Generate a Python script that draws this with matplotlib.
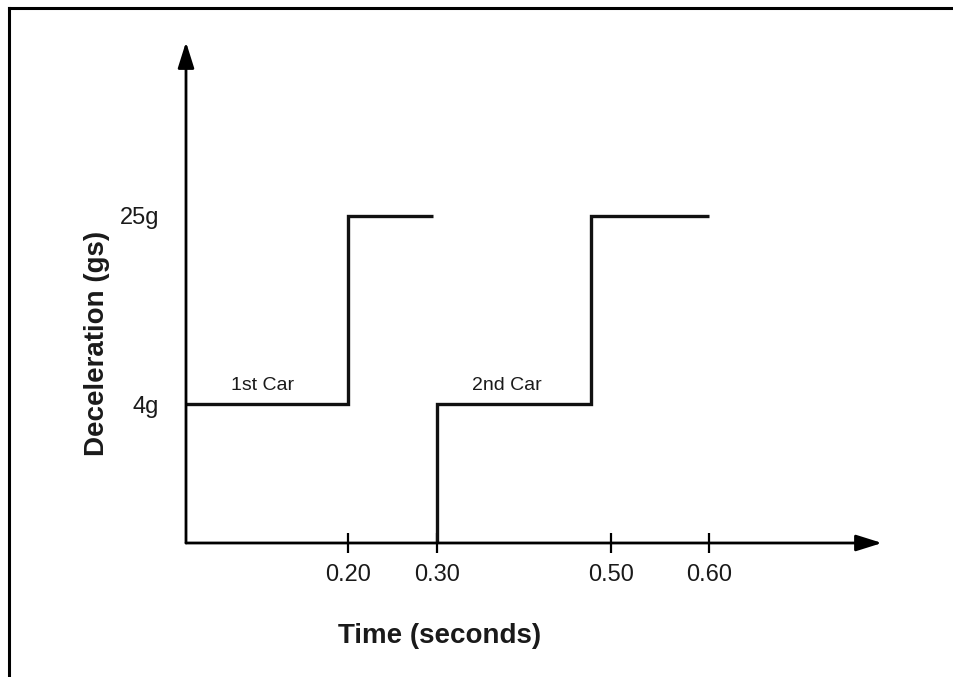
import numpy as np
import matplotlib
matplotlib.use("Agg")
import matplotlib.pyplot as plt
from matplotlib.lines import Line2D

plt.rcParams['font.family'] = ['Liberation Sans', 'DejaVu Sans']

# ---- data ----
car1_time = [0.0, 0.20, 0.20, 0.295]
car1_decel = [4, 4, 25, 25]
car2_time = [0.30, 0.30, 0.477, 0.477, 0.60]
car2_decel = [0, 4, 4, 25, 25]
x_ticks = [0.20, 0.30, 0.50, 0.60]
x_tick_labels = ["0.20", "0.30", "0.50", "0.60"]
y_ticks = [4, 25]
y_tick_labels = ["4g", "25g"]
car_labels = ["1st Car", "2nd Car"]
car_label_pos = [0.094, 0.38]

# schematic (non-uniform) axis spacing as drawn in the original
x_knots = np.array([-1.0, 0.0, 0.20, 0.30, 0.50, 0.60, 2.0])
x_disp = np.array([-810.0, 0.0, 162.0, 251.0, 425.0, 523.0, 523.0 + 1.4 * 980])
y_knots = np.array([-10.0, 0.0, 4.0, 25.0, 100.0])
y_disp = np.array([-347.5, 0.0, 139.0, 327.0, 327.0 + 75 * 9])

def fx(v):
    return np.interp(v, x_knots, x_disp)

def fx_inv(v):
    return np.interp(v, x_disp, x_knots)

def fy(v):
    return np.interp(v, y_knots, y_disp)

def fy_inv(v):
    return np.interp(v, y_disp, y_knots)

W, H = 954, 677
fig = plt.figure(figsize=(W / 100, H / 100), dpi=100)
ox, oy = 186, 543       # origin in pixels (from top-left)
x_end, y_top = 882, 42  # arrow tips
ax = fig.add_axes([ox / W, (H - oy) / H, (x_end - ox) / W, (oy - y_top) / H])
ax.set_xscale('function', functions=(fx, fx_inv))
ax.set_yscale('function', functions=(fy, fy_inv))
ax.set_xlim(0, float(fx_inv(x_end - ox)))
ax.set_ylim(0, float(fy_inv(oy - y_top)))

for s in ax.spines.values():
    s.set_visible(False)
ax.patch.set_visible(False)

# axes arrows
arrow_kw = dict(arrowstyle='-|>,head_length=1.05,head_width=0.33', mutation_scale=15,
                lw=2.0, color='black', shrinkA=0, shrinkB=0)
ax.annotate('', xy=(1, 0), xytext=(0, 0), xycoords='axes fraction',
            textcoords='axes fraction', arrowprops=arrow_kw)
ax.annotate('', xy=(0, 1), xytext=(0, 0), xycoords='axes fraction',
            textcoords='axes fraction', arrowprops=arrow_kw)

line_kw = dict(color='#111111', lw=2.4, solid_joinstyle='miter', solid_capstyle='butt',
               clip_on=False)
ax.plot(car1_time, car1_decel, **line_kw)
ax.plot(car2_time, car2_decel, **line_kw)

ax.set_xticks(x_ticks)
ax.set_xticklabels(x_tick_labels)
ax.set_yticks(y_ticks)
ax.set_yticklabels(y_tick_labels)
ax.tick_params(axis='x', direction='inout', length=14.4, width=1.6, pad=8,
               labelsize=17, labelcolor='#1a1a1a', color='black')
ax.tick_params(axis='y', length=0, pad=19.5, labelsize=17, labelcolor='#1a1a1a')
ax.xaxis.set_minor_locator(matplotlib.ticker.NullLocator())
ax.yaxis.set_minor_locator(matplotlib.ticker.NullLocator())

for lab, xp in zip(car_labels, car_label_pos):
    ax.annotate(lab, xy=(xp, 4), xytext=(0, 7), textcoords='offset points',
                ha='center', va='bottom', fontsize=14, color='#1a1a1a')

fig.text(440 / W, 1 - 636 / H, 'Time (seconds)', ha='center', va='center',
         fontsize=20, fontweight='bold', color='#1a1a1a')
fig.text(97 / W, 1 - 343 / H, 'Deceleration (gs)', ha='center', va='center',
         rotation=90, fontsize=20, fontweight='bold', color='#1a1a1a')

# outer frame (cut by the image on the right and bottom)
fig.add_artist(Line2D([9.5 / W, 9.5 / W], [0, 1 - 7.5 / H], transform=fig.transFigure,
                      color='black', lw=2.2, solid_capstyle='projecting'))
fig.add_artist(Line2D([9.5 / W, 1], [1 - 7.5 / H, 1 - 7.5 / H], transform=fig.transFigure,
                      color='black', lw=2.2, solid_capstyle='projecting'))

fig.savefig('out.png', dpi=100)
